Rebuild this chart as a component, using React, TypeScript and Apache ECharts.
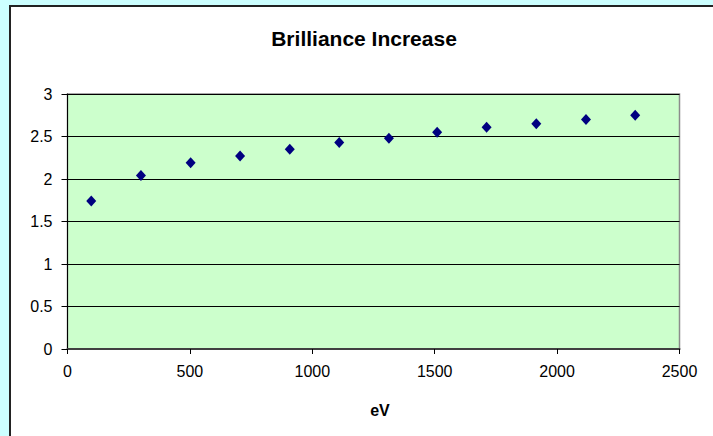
import React, { useEffect, useRef } from "react";
import * as echarts from "echarts";

const energyEV = [97, 300, 503, 705, 908, 1110, 1313, 1510, 1712, 1915, 2118, 2319];
const brillianceIncrease = [1.74, 2.04, 2.19, 2.27, 2.35, 2.43, 2.48, 2.55, 2.61, 2.65, 2.7, 2.75];
const chartTitle = "Brilliance Increase";
const xAxisTitle = "eV";

export default function App() {
  const ref = useRef<HTMLDivElement>(null);
  useEffect(() => {
    document.body.style.margin = "0";
    const chart = echarts.init(ref.current!, null, { renderer: "svg" });
    const font = "'Liberation Sans', Arial, sans-serif";
    chart.setOption({
      animation: false,
      grid: {
        left: 67.5,
        top: 94,
        width: 612,
        height: 255,
        show: true,
        backgroundColor: "#ccffcc",
        borderColor: "#8c8c8c",
        borderWidth: 1.5,
      },
      xAxis: {
        type: "value",
        min: 0,
        max: 2500,
        interval: 500,
        axisLine: { show: true, onZero: false, lineStyle: { color: "#404040", width: 2 } },
        axisTick: { show: true, length: 5, lineStyle: { color: "#000", width: 1 } },
        splitLine: { show: false },
        axisLabel: {
          color: "#000",
          fontSize: 16,
          fontFamily: font,
          margin: 14,
          formatter: (v: number) => String(v),
        },
      },
      yAxis: {
        type: "value",
        min: 0,
        max: 3,
        interval: 0.5,
        axisLine: { show: true, lineStyle: { color: "#000", width: 1 } },
        axisTick: { show: true, length: 6, lineStyle: { color: "#000", width: 1 } },
        splitLine: { show: true, lineStyle: { color: "#000", width: 1 } },
        axisLabel: {
          color: "#000",
          fontSize: 16,
          fontFamily: font,
          margin: 15,
          formatter: (v: number) => String(v),
        },
      },
      graphic: [
        {
          type: "text",
          x: 364,
          y: 38,
          style: {
            text: chartTitle,
            fill: "#000",
            font: `bold 21px ${font}`,
            textAlign: "center",
            textVerticalAlign: "middle",
          },
        },
        {
          type: "text",
          x: 380,
          y: 410,
          style: {
            text: xAxisTitle,
            fill: "#000",
            font: `bold 16px ${font}`,
            textAlign: "center",
            textVerticalAlign: "middle",
          },
        },
      ],
      series: [
        {
          type: "scatter",
          symbol: "diamond",
          symbolSize: [10, 11],
          itemStyle: { color: "#000080", opacity: 1 },
          data: energyEV.map((x, i) => [x, brillianceIncrease[i]]),
        },
      ],
    });
    return () => chart.dispose();
  }, []);
  return (
    <div style={{ position: "fixed", left: 0, top: 0, width: 713, height: 436, background: "#ccffff", overflow: "hidden" }}>
      <div
        style={{
          position: "absolute",
          left: 9,
          top: 5,
          width: 740,
          height: 460,
          background: "#fff",
          borderLeft: "2px solid #222",
          borderTop: "2px solid #222",
        }}
      />
      <div ref={ref} style={{ position: "absolute", left: 0, top: 0, width: 713, height: 436 }} />
    </div>
  );
}
